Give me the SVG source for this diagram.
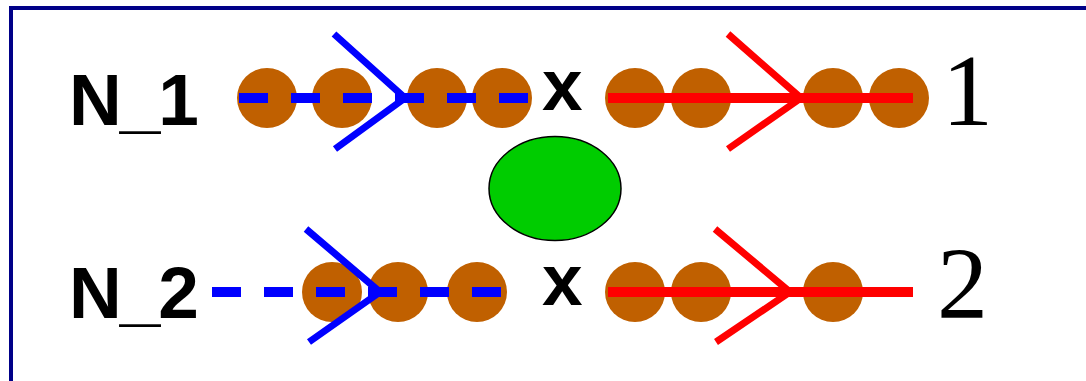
<svg xmlns="http://www.w3.org/2000/svg" width="1086" height="381" viewBox="0 0 1086 381">
<style>
.bd{fill:none;stroke:#000088;stroke-width:4}
.bead{fill:#c06000}
.blue{stroke:#0000ff;stroke-width:10;fill:none}
.dash{stroke-dasharray:29 23}
.red{stroke:#ff0000;stroke-width:10;fill:none}
.chb{stroke:#0000ff;stroke-width:7;fill:none}
.chr{stroke:#ff0000;stroke-width:7;fill:none}
.lbl{font-family:"Liberation Sans",Arial,sans-serif;font-weight:bold;font-size:73px;fill:#000}
.nl{letter-spacing:-2px}
.num{font-family:"Liberation Serif","Times New Roman",serif;font-size:102px;fill:#000}
</style>
<rect width="1086" height="381" fill="#fff"/>
<path class="bd" d="M11,381 V8 H1086"/>
<g id="row1">
<text class="lbl nl" x="69" y="125">N_1</text>
<circle class="bead" cx="267" cy="98" r="30"/>
<circle class="bead" cx="342" cy="98" r="30"/>
<circle class="bead" cx="437" cy="98" r="30"/>
<circle class="bead" cx="502" cy="98" r="30"/>
<text class="lbl" x="542" y="110">x</text>
<circle class="bead" cx="635" cy="98" r="30"/>
<circle class="bead" cx="701" cy="98" r="30"/>
<circle class="bead" cx="833" cy="98" r="30"/>
<circle class="bead" cx="899" cy="98" r="30"/>
<text class="num" x="942" y="125">1</text>
</g>
<g id="row2">
<text class="lbl nl" x="69" y="318">N_2</text>
<circle class="bead" cx="332" cy="292" r="30"/>
<circle class="bead" cx="398" cy="292" r="30"/>
<circle class="bead" cx="477" cy="292" r="30"/>
<text class="lbl" x="542" y="305">x</text>
<circle class="bead" cx="635" cy="292" r="30"/>
<circle class="bead" cx="701" cy="292" r="30"/>
<circle class="bead" cx="833" cy="292" r="30"/>
<text class="num" x="937" y="318">2</text>
</g>
<g id="center">
<ellipse cx="555" cy="188.5" rx="66" ry="52" fill="#00cc00" stroke="#000" stroke-width="1.5"/>
</g>
<g id="connectors">
<line class="blue dash" x1="239" y1="98" x2="531" y2="98"/>
<polyline class="chb" points="334,34 405,98 335,149"/>
<line class="red" x1="608" y1="98" x2="913" y2="98"/>
<polyline class="chr" points="728,34 801,98 728,149"/>
<line class="blue dash" x1="212" y1="292" x2="505" y2="292" stroke-dasharray="29 24"/>
<polyline class="chb" points="306,229 380,292 309,342"/>
<line class="red" x1="608" y1="292" x2="913" y2="292"/>
<polyline class="chr" points="715,229 790,292 716,342"/>
</g>
</svg>
